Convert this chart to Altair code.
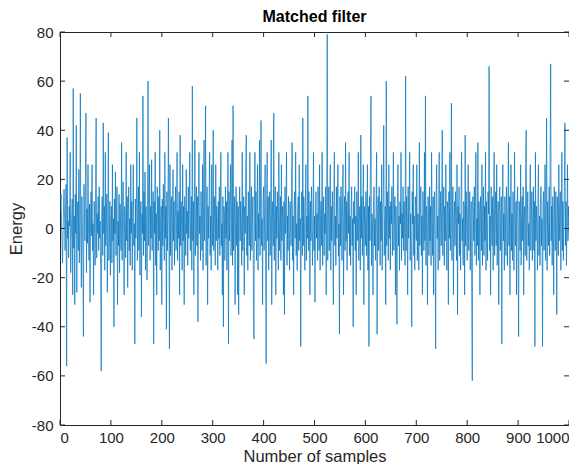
import altair as alt
import pandas as pd

title_text = "Matched filter"
x_title = "Number of samples"
y_title = "Energy"
x_ticks = [0, 100, 200, 300, 400, 500, 600, 700, 800, 900, 1000]
y_ticks = [-80, -60, -40, -20, 0, 20, 40, 60, 80]

energy = [
    8, 14, 2, -6, -14, -3, 10, 16, 4, -9, 6, 18, -56, 37, -4, 3, -12, 9, 1, 31, -18, -5, 4, 12, -27,
    57, -8, 5, -31, 14, -2, 42, -26, 3, 11, -9, 24, -14, 2, 55, -6, -24, 13, 0, -10, -44, 18, 7, -5, 21,
    47, -18, 8, -6, 26, 1, -13, 10, -30, 4, 15, -3, 26, -9, 2, -27, 11, 5, -15, 19, 45, -12, 6, -2, 13,
    -9, 17, -4, 3, -21, -58, 7, 13, -11, 43, -2, 9, -17, 31, -7, 2, 14, -26, 5, 39, -13, -4, 11, -19, 3,
    9, -14, 26, -5, 4, -40, 12, -2, 23, -11, 6, 17, -31, 3, -7, 14, -18, 10, 1, -9, 35, -13, 5, 19, -4,
    -27, 9, 2, -12, 31, -5, 13, -24, 6, 17, -9, 4, -15, 26, -2, 11, -17, 5, 26, -7, 2, -47, 12, -4, 9,
    45, -13, 5, 17, -9, 31, -19, 4, 11, -36, 6, -2, 54, -11, 15, -5, 23, -17, 9, 2, -21, 13, 60, -7, 4,
    26, -13, 9, -4, 28, -9, 5, 15, -47, 11, -2, 31, -15, 6, -27, 17, 2, -9, 13, -5, 40, -17, 4, 9, -31,
    12, -7, 18, 2, -13, 31, -4, 9, -41, 15, -9, 5, 45, 4, -49, 26, -11, 7, 13, -17, 2, 24, -5, 11, -15,
    5, 17, -9, 2, 31, -13, 7, -4, 15, -27, 38, -7, 11, 1, -17, 26, -5, 9, -31, 13, 4, -11, 24, -2, 7,
    -15, 17, -4, 9, 31, -9, 2, 13, -17, 58, -5, 11, -27, 6, 36, -11, 4, 17, -7, 13, -38, 9, 31, -2, 5,
    -13, 15, 4, -9, 26, -17, 6, 36, -5, 11, 50, -15, 2, 17, -31, 9, -4, 13, 31, -11, 5, -17, 26, 1, -7,
    40, -9, 13, 4, -15, 26, -5, 9, 2, -17, 11, -4, 17, -11, 6, 31, -7, 2, -27, 13, -40, 9, 5, -13, 17,
    -4, 11, -17, 6, 31, -47, 15, -5, 9, 26, -11, 2, 36, -15, 50, -9, 5, 13, -31, 4, 17, -7, 11, -27, 9,
    -35, 6, 17, -5, 11, 2, -15, 31, -9, 4, 13, -27, 9, -2, 26, 38, -11, 5, -17, 15, 2, -7, 31, -13, 6,
    17, -9, 4, 13, -27, -45, 9, 31, -5, 15, -13, 2, 26, -17, 6, -4, 36, -11, 13, 44, -7, 4, -31, 11, 17,
    -9, 5, 26, -15, -55, 9, 31, -5, 13, -17, 2, 15, -11, 6, 36, -31, 4, 11, -7, 47, -13, 5, 17, -27, 9,
    -4, 15, 6, -17, 31, -9, 2, 13, -13, 26, -5, 9, 4, -27, 11, -35, 17, -2, 6, 31, -15, 5, -9, 13, 2,
    -17, 11, 4, -7, 17, 35, -13, 5, -27, 9, 15, -4, 31, -11, 2, -17, 6, 13, -9, 26, -5, 4, -48, 9, 15,
    -11, 45, -7, 13, 2, -17, 9, 26, -13, 5, -4, 54, -9, 15, 4, -27, 11, -5, 17, 6, -15, 2, 31, -9, 5,
    -30, 9, 15, -4, 6, -13, 17, 2, -9, 26, -17, 5, 11, -7, 31, -15, 4, 13, -11, 6, -2, 17, -27, 9, 79,
    -13, 5, 17, -9, 4, 26, -17, 9, -5, 15, 2, -31, 11, 31, -7, 5, -15, 17, -4, 9, 26, -11, 2, -43, 13,
    -7, 17, 5, -13, 9, 26, -27, 4, 13, -9, 35, -5, 11, -17, 6, 15, -2, 31, -11, 5, -15, 9, 17, -7, 4,
    -40, 11, 2, 17, -9, 5, -27, 15, 6, -5, 31, -13, 4, 9, -17, 38, -4, 13, -11, 6, 26, -31, 9, 2, -7,
    15, -11, 5, 26, -17, 9, -48, 13, -5, 31, 54, -15, 6, 2, -27, 11, 17, -7, 4, -13, 9, 31, -43, 5, 13,
    -9, 17, 4, -15, 11, -5, 26, -17, 6, 13, 42, -11, 2, 9, -31, 60, -7, 15, 5, -13, 26, -4, 9, -17, 11,
    2, 17, -11, 6, 31, -9, 4, 13, -27, 9, -5, -39, 15, 26, -7, 5, -17, 11, 2, 31, -13, 6, -4, 17, -9,
    11, 4, -15, 62, -9, 13, 5, -27, 17, -4, 9, 31, -13, 6, -7, -40, 15, 2, 26, -11, 5, -17, 13, 9, -5,
    26, -13, 6, 4, -17, 35, -7, 11, 17, -11, 5, -27, 15, 2, -9, 31, -5, 54, -15, 9, 4, -31, 13, 6, -11,
    17, -5, 9, -15, 31, 4, -11, 13, -27, 6, 15, -9, -49, 11, 26, -4, 5, -17, 9, 31, -13, 2, 15, -7, 11,
    40, -11, 5, 17, -15, 9, -5, 26, 2, -17, 11, 6, -31, 15, -4, 31, -9, 5, 51, -13, 9, 17, -27, 4, 11,
    -7, 15, 5, -13, 26, -35, 9, 2, 17, -11, 6, -17, 13, 31, -5, 4, -15, 11, 9, -27, 38, -7, 15, 2, -13,
    9, 26, -9, 5, 15, -17, 4, 11, -31, -62, 13, 6, -5, 17, -11, 9, 31, -15, 4, -7, 35, -13, 11, 5, -27,
    13, 6, -9, 26, -15, 4, 17, -11, 9, -5, 31, -17, 11, 2, -13, 15, 6, 66, -9, 5, -27, 17, 4, -7, 13,
    -17, 9, 31, -11, 5, 15, -7, 26, -15, 4, 11, -31, 6, 17, -9, 2, 13, -47, 9, 26, -5, 6, -17, 13, 4,
    -11, 17, 5, -15, 9, 35, -7, 13, -27, 4, 26, -9, 6, -13, 15, 2, -17, 31, 5, -7, 11, -27, 9, 17, -4,
    -44, 11, 5, -9, 26, -15, 6, 13, -5, 17, -27, 4, 9, -11, 31, 40, -13, 5, 15, -7, 2, -17, 11, 26, -9,
    6, 15, -13, 4, 17, -9, 11, -48, 31, -5, 9, 2, -17, 13, 26, -11, 5, -15, 9, 17, -7, 4, -48, 11, 15,
    -9, 5, 26, -13, 6, 45, -17, 11, 2, -7, 17, -11, 31, 67, -5, 9, -15, 13, 4, -27, 17, 6, -9, 15, 5,
    -35, 13, 6, -11, 26, -5, 9, 15, -17, 4, 31, -9, 11, -13, 5, 17, 43, -7, 11, -15, 2, 26, -5, 9, -2,
]

W, H = 509, 393
FONT = "Liberation Sans"
TXT = "#262626"

df = pd.DataFrame({"n": list(range(1, len(energy) + 1)), "e": energy})
xt = pd.DataFrame({"n": x_ticks})
yt = pd.DataFrame({"e": y_ticks})

xs = alt.Scale(domain=[0, 1000], nice=False)
ys = alt.Scale(domain=[-80, 80], nice=False)
common = dict(ticks=False, domain=False, grid=False, labelFont=FONT, titleFont=FONT,
              labelFontSize=15, titleFontSize=16.5, labelColor=TXT, titleColor=TXT,
              titleFontWeight="normal", labelExpr="'' + datum.value")
xax = alt.Axis(values=x_ticks, labelPadding=5, titleBaseline="alphabetic", titleY=36, **common)
yax = alt.Axis(values=y_ticks, labelPadding=7, titlePadding=7, **common)
XE = alt.X("n:Q", scale=xs, title=x_title, axis=xax)
YE = alt.Y("e:Q", scale=ys, title=y_title, axis=yax)

line = alt.Chart(df).mark_line(color="#0072BD", strokeWidth=0.7, clip=True).encode(x=XE, y=YE)

xb = alt.Chart(xt).mark_rule(color=TXT, strokeWidth=1).encode(
    x=XE, y=alt.value(H), y2=alt.value(H - 5))
xtop = alt.Chart(xt).mark_rule(color=TXT, strokeWidth=1).encode(
    x=XE, y=alt.value(0), y2=alt.value(5))
yl = alt.Chart(yt).mark_rule(color=TXT, strokeWidth=1).encode(
    y=YE, x=alt.value(0), x2=alt.value(5))
yr = alt.Chart(yt).mark_rule(color=TXT, strokeWidth=1).encode(
    y=YE, x=alt.value(W), x2=alt.value(W - 5))

chart = alt.layer(line, xb, xtop, yl, yr).properties(
    width=W, height=H,
    background="white",
    title=alt.TitleParams(title_text, fontSize=16, fontWeight="bold", font=FONT, color="#000000",
                          anchor="middle", offset=0),
    autosize=alt.AutoSizeParams(type="none"),
    padding={"left": 52, "top": 24, "right": 0, "bottom": 39},
).configure_view(
    stroke=TXT, strokeWidth=1
)

chart.save("out.html", embed_options={"renderer": "svg", "actions": False})
